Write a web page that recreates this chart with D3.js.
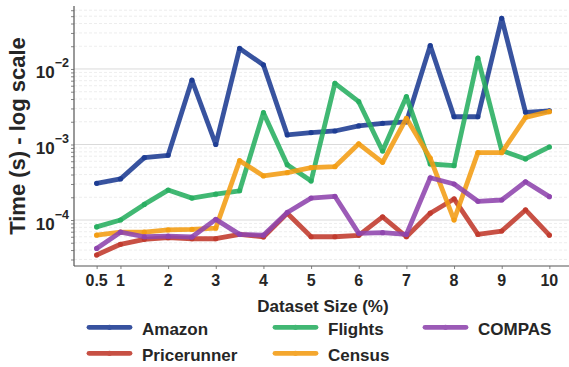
<!DOCTYPE html>
<html>
<head>
<meta charset="utf-8">
<script src="https://cdn.jsdelivr.net/npm/d3@7"></script>
<style>
  html, body { margin: 0; padding: 0; background: #fff; }
  svg { display: block; font-family: "Liberation Sans", Arial, sans-serif; }
</style>
</head>
<body>
<svg id="chart" width="569" height="367"></svg>
<script>
// Dataset sizes (% of the data) at which timing was measured
const sizes = [0.5, 1, 1.5, 2, 2.5, 3, 3.5, 4, 4.5, 5, 5.5, 6, 6.5, 7, 7.5, 8, 8.5, 9, 9.5, 10];
const xTickValues = [0.5, 1, 2, 3, 4, 5, 6, 7, 8, 9, 10];
const yTickExponents = [-4, -3, -2];

// Runtime in seconds per dataset
const amazon      = [3.06e-4, 3.5e-4, 6.7e-4, 7.2e-4, 7.1e-3, 1.0e-3, 1.87e-2, 1.13e-2, 1.34e-3, 1.44e-3,
                     1.51e-3, 1.76e-3, 1.91e-3, 1.99e-3, 2.04e-2, 2.33e-3, 2.33e-3, 4.69e-2, 2.67e-3, 2.78e-3];
const pricerunner = [3.44e-5, 4.77e-5, 5.55e-5, 5.83e-5, 5.65e-5, 5.65e-5, 6.45e-5, 5.96e-5, 1.23e-4, 6.0e-5,
                     6.0e-5, 6.27e-5, 1.1e-4, 6.0e-5, 1.23e-4, 1.9e-4, 6.45e-5, 7.15e-5, 1.36e-4, 6.3e-5];
const flights     = [8.1e-5, 1.0e-4, 1.61e-4, 2.49e-4, 1.95e-4, 2.2e-4, 2.44e-4, 2.64e-3, 5.4e-4, 3.29e-4,
                     6.46e-3, 3.69e-3, 8.2e-4, 4.3e-3, 5.52e-4, 5.24e-4, 1.39e-2, 8.3e-4, 6.43e-4, 9.27e-4];
const census      = [6.3e-5, 6.9e-5, 6.9e-5, 7.4e-5, 7.5e-5, 7.8e-5, 6.1e-4, 3.83e-4, 4.24e-4, 4.93e-4,
                     5.08e-4, 1.02e-3, 5.8e-4, 2.22e-3, 6.6e-4, 1.0e-4, 7.8e-4, 7.8e-4, 2.29e-3, 2.72e-3];
const compas      = [4.2e-5, 6.9e-5, 6.0e-5, 6.1e-5, 5.96e-5, 1.02e-4, 6.45e-5, 6.3e-5, 1.26e-4, 1.95e-4,
                     2.06e-4, 6.66e-5, 6.8e-5, 6.45e-5, 3.63e-4, 3.0e-4, 1.77e-4, 1.84e-4, 3.21e-4, 2.04e-4];

const seriesNames  = ["Amazon", "Pricerunner", "Flights", "Census", "COMPAS"];
const seriesValues = [amazon, pricerunner, flights, census, compas];
const seriesColors = ["#1c3b92", "#c0392b", "#27ae60", "#f39c12", "#8e44ad"];

const svg = d3.select("#chart");
const plot = { left: 74, right: 572, top: 6, bottom: 266 };
const ink = "#262626";

const x = d3.scaleLinear().domain([0.025, 10.475]).range([plot.left, plot.right]);
const y = d3.scaleLog().domain([Math.pow(10, -4.609), Math.pow(10, -1.166)]).range([plot.bottom, plot.top]);

// Horizontal grid: solid at each decade, dashed at the minor steps
const [yLo, yHi] = y.domain();
const minor = [];
for (let e = -5; e <= -1; e++) {
  for (let k = 2; k <= 9; k++) {
    const v = k * Math.pow(10, e);
    if (v > yLo && v < yHi) minor.push(v);
  }
}
const major = yTickExponents.map(e => Math.pow(10, e));

svg.append("g").selectAll("line").data(minor).join("line")
  .attr("x1", plot.left).attr("x2", plot.right)
  .attr("y1", d => y(d)).attr("y2", d => y(d))
  .attr("stroke", "#e9e9e9").attr("stroke-width", 0.8)
  .attr("stroke-dasharray", "3,2");
svg.append("g").selectAll("line").data(major).join("line")
  .attr("x1", plot.left).attr("x2", plot.right)
  .attr("y1", d => y(d)).attr("y2", d => y(d))
  .attr("stroke", "#dadada").attr("stroke-width", 1);

// Axes
const yAxisG = svg.append("g").attr("transform", `translate(${plot.left},0)`)
  .call(d3.axisLeft(y).tickValues(major.concat(minor)).tickSize(3).tickFormat(""));
const xAxisG = svg.append("g").attr("transform", `translate(0,${plot.bottom})`)
  .call(d3.axisBottom(x).tickValues(xTickValues).tickSize(3).tickFormat(""));
[yAxisG, xAxisG].forEach(g => {
  g.select(".domain").attr("stroke", "#555").attr("stroke-width", 1.2);
  g.selectAll(".tick line").attr("stroke", "#666").attr("stroke-width", 0.8);
});
yAxisG.select(".domain").attr("d", `M0,${plot.top}V${plot.bottom}`);
xAxisG.select(".domain").attr("d", `M${plot.left},0H${plot.right}`);

// Decade labels as 10 with a raised exponent
const yLabels = svg.append("g");
yTickExponents.forEach(e => {
  const t = yLabels.append("text")
    .attr("x", 69).attr("y", y(Math.pow(10, e)) + 9.5)
    .attr("text-anchor", "end").attr("fill", ink)
    .attr("font-weight", "bold").attr("font-size", 17);
  t.append("tspan").text("10");
  t.append("tspan").attr("dy", -11).attr("font-size", 12.5).text("\u2212" + Math.abs(e));
});

svg.append("g").selectAll("text").data(xTickValues).join("text")
  .attr("x", d => x(d)).attr("y", 286)
  .attr("text-anchor", "middle").attr("fill", ink)
  .attr("font-weight", "bold").attr("font-size", 16)
  .text(d => d);

svg.append("text")
  .attr("x", (plot.left + plot.right) / 2).attr("y", 311.5)
  .attr("text-anchor", "middle").attr("fill", ink)
  .attr("font-weight", "bold").attr("font-size", 17)
  .text("Dataset Size (%)");

svg.append("text")
  .attr("transform", `translate(25,${(plot.top + plot.bottom) / 2}) rotate(-90)`)
  .attr("text-anchor", "middle").attr("fill", ink)
  .attr("font-weight", "bold").attr("font-size", 22)
  .text("Time (s) - log scale");

// Series lines with point markers
const line = d3.line().x((d, i) => x(sizes[i])).y(d => y(d));
seriesValues.forEach((vals, s) => {
  const g = svg.append("g").attr("opacity", 0.88);
  g.append("path").datum(vals)
    .attr("d", line).attr("fill", "none")
    .attr("stroke", seriesColors[s]).attr("stroke-width", 4.8)
    .attr("stroke-linejoin", "round").attr("stroke-linecap", "round");
  svg.append("g").selectAll("circle").data(vals).join("circle")
    .attr("cx", (d, i) => x(sizes[i])).attr("cy", d => y(d))
    .attr("r", 2.6).attr("fill", seriesColors[s]).attr("opacity", 0.9);
});

// Legend: three columns, filled column by column
const legendCols = [89, 275, 425];
const legendRows = [327.3, 353.3];
seriesNames.forEach((name, i) => {
  const cx = legendCols[Math.floor(i / 2)];
  const cy = legendRows[i % 2];
  const g = svg.append("g").attr("opacity", 0.88);
  g.append("line")
    .attr("x1", cx).attr("x2", cx + 41).attr("y1", cy).attr("y2", cy)
    .attr("stroke", seriesColors[i]).attr("stroke-width", 4.8).attr("stroke-linecap", "round");
  g.append("circle").attr("cx", cx + 20.5).attr("cy", cy).attr("r", 2.6).attr("fill", seriesColors[i]);
  svg.append("text")
    .attr("x", cx + 53).attr("y", cy + 7.7)
    .attr("fill", ink).attr("font-weight", "bold").attr("font-size", 17)
    .text(name);
});
</script>
</body>
</html>
